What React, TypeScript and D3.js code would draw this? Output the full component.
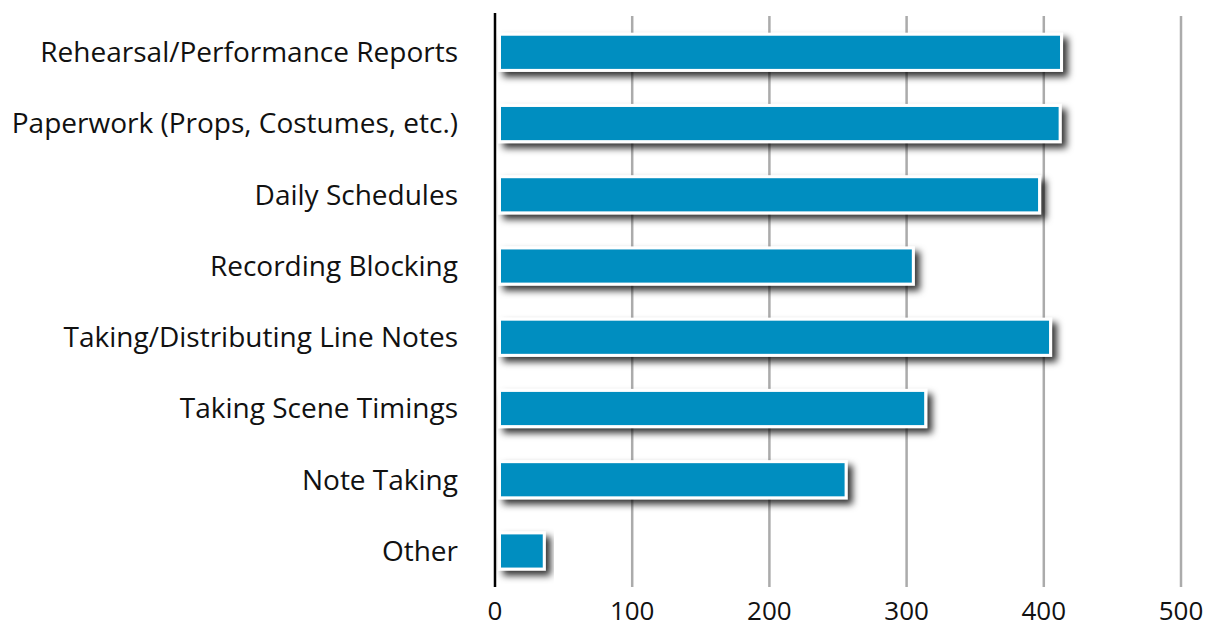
import { useEffect, useRef } from "react";
import * as d3 from "d3";

const categories = [
  "Rehearsal/Performance Reports",
  "Paperwork (Props, Costumes, etc.)",
  "Daily Schedules",
  "Recording Blocking",
  "Taking/Distributing Line Notes",
  "Taking Scene Timings",
  "Note Taking",
  "Other",
];
const counts = [414, 413, 398, 306, 406, 315, 257, 37];
const xTicks = [0, 100, 200, 300, 400, 500];

export default function App() {
  const svgRef = useRef<SVGSVGElement | null>(null);

  useEffect(() => {
    document.body.style.margin = "0";
    const svgElement = svgRef.current;
    if (!svgElement) return;

    const width = 1208;
    const height = 628;
    const x = d3.scaleLinear().domain([0, 500]).range([495, 1181]);
    const y = d3.scaleBand().domain(categories).range([16.7, 586.6]).paddingInner(0.45).paddingOuter(0.225);

    const svg = d3.select(svgElement);
    svg.selectAll("*").remove();
    svg.attr("viewBox", `0 0 ${width} ${height}`);

    const defs = svg.append("defs");
    const filter = defs
      .append("filter")
      .attr("id", "barShadow")
      .attr("x", "-10%")
      .attr("y", "-40%")
      .attr("width", "130%")
      .attr("height", "190%");
    filter
      .append("feDropShadow")
      .attr("dx", 5)
      .attr("dy", 5)
      .attr("stdDeviation", 3.5)
      .attr("flood-color", "#000")
      .attr("flood-opacity", 0.8);

    // grid lines
    svg
      .append("g")
      .selectAll("line")
      .data(xTicks.filter((t) => t > 0))
      .join("line")
      .attr("x1", (t) => x(t))
      .attr("x2", (t) => x(t))
      .attr("y1", 16)
      .attr("y2", 587)
      .attr("stroke", "#ababab")
      .attr("stroke-width", 2.5);

    // bars
    svg
      .append("g")
      .selectAll("rect")
      .data(categories)
      .join("rect")
      .attr("x", x(0) + 4.5)
      .attr("y", (c) => (y(c) ?? 0) + 1.5)
      .attr("width", (c, i) => x(counts[i]) - x(0) - 6)
      .attr("height", y.bandwidth() - 3)
      .attr("fill", "#068ec0")
      .attr("stroke", "#ffffff")
      .attr("stroke-width", 3)
      .attr("filter", "url(#barShadow)");

    // axis line
    svg
      .append("line")
      .attr("x1", x(0))
      .attr("x2", x(0))
      .attr("y1", 13)
      .attr("y2", 587)
      .attr("stroke", "#000")
      .attr("stroke-width", 2.5);

    // category labels
    svg
      .append("g")
      .selectAll("text")
      .data(categories)
      .join("text")
      .attr("x", 458)
      .attr("y", (c) => (y(c) ?? 0) + y.bandwidth() / 2)
      .attr("dy", "0.35em")
      .attr("text-anchor", "end")
      .attr("font-family", "'Open Sans', Lato, sans-serif")
      .attr("font-size", 28)
      .attr("fill", "#111")
      .text((c) => c);

    // tick labels
    svg
      .append("g")
      .selectAll("text")
      .data(xTicks)
      .join("text")
      .attr("x", (t) => x(t))
      .attr("y", 611)
      .attr("dy", "0.35em")
      .attr("text-anchor", "middle")
      .attr("font-family", "'Open Sans', Lato, sans-serif")
      .attr("font-size", 26)
      .attr("fill", "#111")
      .text((t) => String(t));
  }, []);

  return <svg ref={svgRef} width={1208} height={628} style={{ display: "block" }} />;
}
